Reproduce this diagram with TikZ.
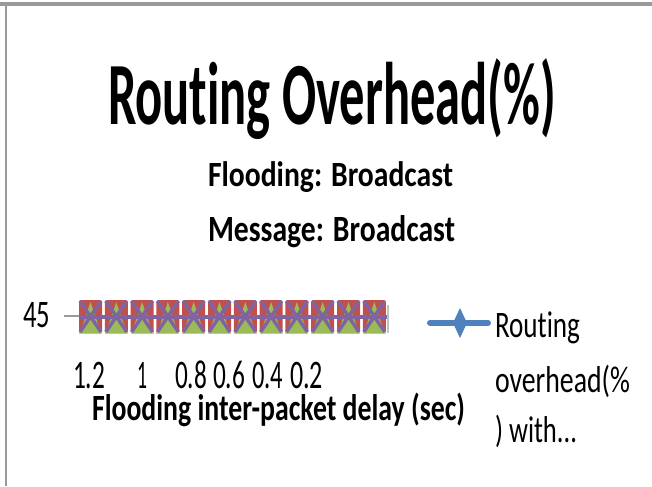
\documentclass[tikz,border=0pt]{standalone}
\usepackage{fontspec}
\setmainfont{Carlito}[Ligatures={NoCommon,NoContextual}]
\usepackage{graphicx}
\definecolor{serblue}{HTML}{4F81BD}
\definecolor{serred}{HTML}{C0504D}
\definecolor{sergreen}{HTML}{9BBB59}
\definecolor{serpurple}{HTML}{8064A2}
\definecolor{sertan}{HTML}{D9C39A}
\definecolor{frame}{HTML}{9A9A9A}
% set a text to a given width and cap height (both in px units of the picture)
\newsavebox\fitbox
\newsavebox\capbox
\newcommand\fitw[3]{\sbox\fitbox{#3}\sbox\capbox{H}%
  \pgfmathsetmacro\fitx{#1*0.75/\wd\fitbox}%
  \pgfmathsetmacro\fity{#2*0.75/\ht\capbox}%
  \scalebox{\fitx}[\fity]{\usebox\fitbox}}
\tikzset{
  lbl/.style={anchor=base west, inner sep=0pt, outer sep=0pt},
  titlefont/.style={font=\fontsize{60}{62}\selectfont\bfseries},
  subfont/.style={font=\fontsize{26}{28}\selectfont\bfseries},
  tickfont/.style={font=\fontsize{26}{28}\selectfont},
  axisfont/.style={font=\fontsize{26}{28}\selectfont\bfseries},
  legfont/.style={font=\fontsize{26}{28}\selectfont},
}
\begin{document}
\begin{tikzpicture}[x=0.75pt, y=-0.75pt]
\useasboundingbox (0,0) rectangle (652,486);
% chart frame (top and left edges)
\fill[frame] (0,1.5) rectangle (652,6);
\fill[frame] (5,6) rectangle (7,486);

% titles
\node[lbl, titlefont] (title) at (108,124) {\fitw{448}{57.6}{Rout\kern0pt ing Overhead(\%)}};
\node[lbl, subfont] (sub1) at (208,186) {\fitw{245}{23}{Flooding: Broadcast}};
\node[lbl, subfont] (sub2) at (208,241) {\fitw{247}{24}{Message: Broadcast}};

% value axis label and tick
\node[lbl, tickfont] (v45) at (23,327) {\fitw{27}{25}{45}};
\draw[frame, line width=1.2pt] (64,316) -- (79,316);

% stacked series markers
\foreach \i in {0,...,11}{
  \pgfmathsetmacro\xa{79+25.8*\i}
  \pgfmathsetmacro\xb{\xa+23}
  \pgfmathsetmacro\xm{\xa+11.5}
  \fill[serred, rounded corners=1.5pt] (\xa,300) rectangle (\xb,333);
  \draw[sertan, line width=1pt] (\xa,333) -- (\xb,333);
  \fill[sergreen] (\xa+1,333) -- (\xm,302) -- (\xb-1,333) -- cycle;
  \draw[serpurple, line width=2.6pt] (\xa+1,301) -- (\xb-1,332) (\xb-1,301) -- (\xa+1,332);
}
\draw[frame!60, line width=1pt] (388,305) -- (388,333);
\draw[serpurple, line width=3pt] (79,317) -- (387,317);

% category labels
\node[lbl, tickfont] (c1) at (73,388) {\fitw{32}{26}{1.2}};
\node[lbl, tickfont] (c2) at (137,388) {\fitw{10}{26}{1}};
\node[lbl, tickfont] (c3) at (175,388) {\fitw{32}{26}{0.8}};
\node[lbl, tickfont] (c4) at (213,388) {\fitw{32}{26}{0.6}};
\node[lbl, tickfont] (c5) at (252,388) {\fitw{31}{26}{0.4}};
\node[lbl, tickfont] (c6) at (290,388) {\fitw{33}{26}{0.2}};
\node[lbl, axisfont] (xtitle) at (92,420) {\fitw{373}{24}{Flooding inter-packet delay (sec)}};

% legend
\coordinate (lgA) at (430,323);
\coordinate (lgB) at (488,323);
\draw[serblue, line width=4.5pt, line cap=round] (lgA) -- (lgB);
\fill[serblue] (460,308) -- (467,323) -- (460,338) -- (453,323) -- cycle;
\node[lbl, legfont] (lg1) at (495,337) {\fitw{85}{24}{Rout\kern0pt ing}};
\node[lbl, legfont] (lg2) at (495,392) {\fitw{135}{24}{overhead(\%}};
\node[lbl, legfont] (lg3) at (495,442) {\fitw{82}{24}{) with...}};
\end{tikzpicture}
\end{document}
